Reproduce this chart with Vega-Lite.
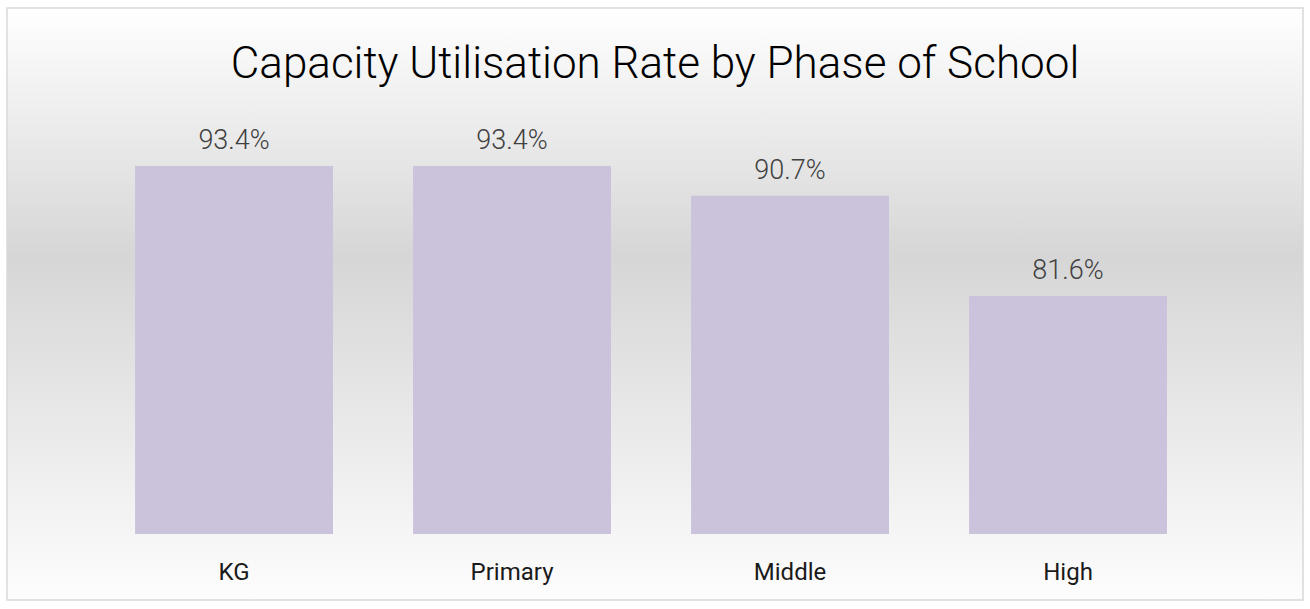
{
  "$schema": "https://vega.github.io/schema/vega-lite/v6.json",
  "autosize": {"type": "none"},
  "padding": {"left": 7, "top": 8, "right": 7, "bottom": 9},
  "width": 1296,
  "height": 592,
  "background": "#ffffff",
  "title": {
    "text": "Capacity Utilisation Rate by Phase of School",
    "font": "Roboto",
    "fontSize": 44,
    "fontWeight": 300,
    "color": "#000000",
    "anchor": "middle",
    "offset": -79
  },
  "config": {
    "view": {
      "stroke": "#d9d9d9",
      "strokeWidth": 1.5,
      "fill": {
        "gradient": "linear",
        "x1": 0, "y1": 0, "x2": 0, "y2": 1,
        "stops": [
          {"offset": 0, "color": "#ffffff"},
          {"offset": 0.42, "color": "#d6d6d6"},
          {"offset": 1, "color": "#fdfdfd"}
        ]
      }
    }
  },
  "data": {
    "values": [
      {"phase": "KG", "rate": 93.4, "label": "93.4%"},
      {"phase": "Primary", "rate": 93.4, "label": "93.4%"},
      {"phase": "Middle", "rate": 90.7, "label": "90.7%"},
      {"phase": "High", "rate": 81.6, "label": "81.6%"}
    ]
  },
  "encoding": {
    "x": {
      "field": "phase",
      "type": "nominal",
      "sort": null,
      "scale": {"paddingInner": 0.288, "paddingOuter": 0.475, "align": 0.485},
      "axis": {
        "title": null,
        "domain": false,
        "ticks": false,
        "labelAngle": 0,
        "labelPadding": 0,
        "offset": -21,
        "labelBaseline": "alphabetic",
        "labelFont": "Roboto",
        "labelFontSize": 24,
        "labelColor": "#1a1a1a"
      }
    }
  },
  "layer": [
    {
      "mark": {"type": "bar", "color": "#cbc2dc"},
      "encoding": {
        "y": {
          "field": "rate",
          "type": "quantitative",
          "scale": {"domain": [54.01, 107.74], "zero": false, "nice": false},
          "axis": null
        },
        "y2": {"datum": 60}
      }
    },
    {
      "mark": {
        "type": "text",
        "baseline": "alphabetic",
        "dy": -17,
        "font": "Roboto",
        "fontSize": 27,
        "fontWeight": 300,
        "color": "#404040"
      },
      "encoding": {
        "y": {"field": "rate", "type": "quantitative"},
        "text": {"field": "label"}
      }
    }
  ]
}
